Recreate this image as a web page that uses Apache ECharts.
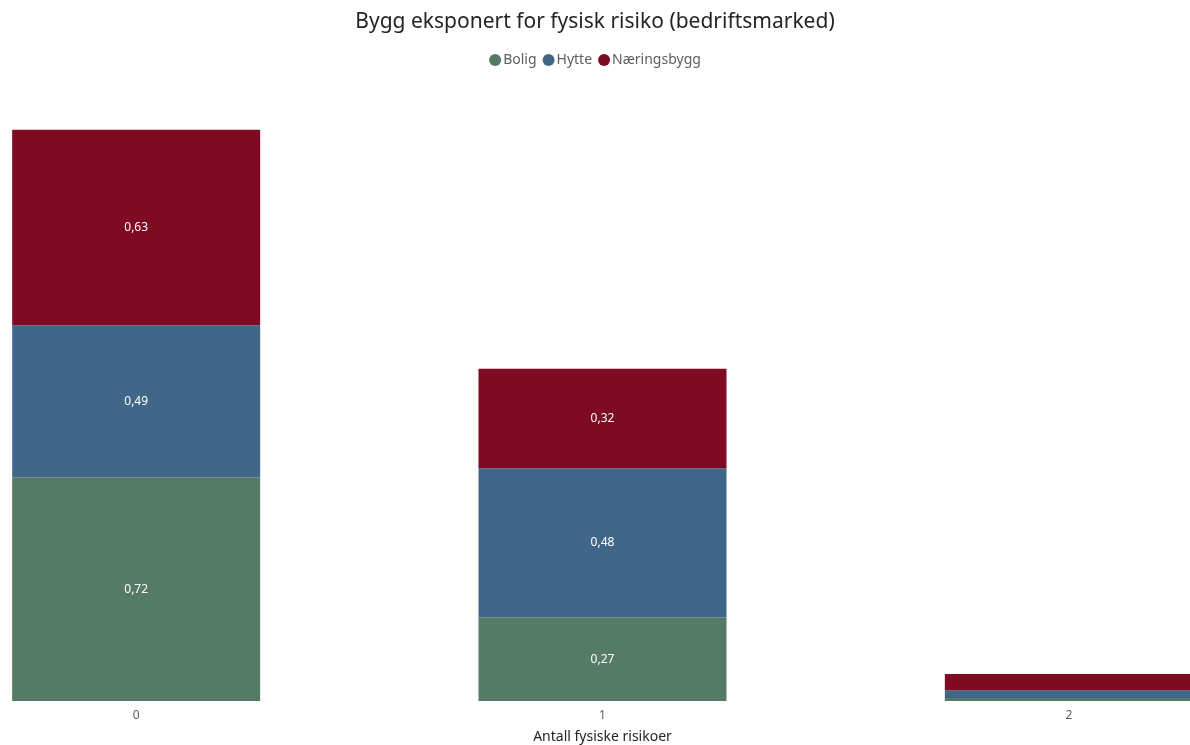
<!DOCTYPE html>
<html>
<head>
<meta charset="utf-8">
<script src="https://cdn.jsdelivr.net/npm/echarts@6/dist/echarts.min.js"></script>
<style>
  html, body { margin: 0; padding: 0; background: #fff; }
  #main { width: 1190px; height: 745px; }
</style>
</head>
<body>
<div id="main"></div>
<script>
"use strict";

// kategorier og verdier lest av bildet
var categories = ["0", "1", "2"];
var bolig = [0.72, 0.27, 0.01];
var hytte = [0.49, 0.48, 0.025];
var naeringsbygg = [0.63, 0.32, 0.052];

var fontName = "'Noto Sans', 'DejaVu Sans', sans-serif";

function fmt(p) {
    if (p.value < 0.1) return "";
    return p.value.toFixed(2).replace(".", ",");
}

function makeSeries(name, data, color) {
    return {
        name: name,
        type: "bar",
        stack: "total",
        barWidth: 248,
        data: data,
        itemStyle: { color: color },
        label: {
            show: true,
            position: "inside",
            formatter: fmt,
            color: "#ffffff",
            fontSize: 12,
            fontFamily: fontName
        }
    };
}

var option = {
    animation: false,
    title: {
        text: "Bygg eksponert for fysisk risiko (bedriftsmarked)",
        left: "center",
        top: 7,
        textStyle: { fontSize: 21, fontWeight: "normal", color: "#252423", fontFamily: fontName }
    },
    legend: {
        top: 48,
        left: "center",
        icon: "circle",
        itemWidth: 12,
        itemHeight: 12,
        itemGap: 6,
        textStyle: { fontSize: 14, color: "#605e5c", fontFamily: fontName, padding: [0, 0, 0, -3] }
    },
    // Power BI-rutenettet går litt utenfor bildet på begge sider
    grid: { left: -97, right: -112, top: 80, bottom: 44, containLabel: false, outerBoundsMode: "none" },
    xAxis: {
        type: "category",
        data: categories,
        name: "Antall fysiske risikoer",
        nameLocation: "middle",
        nameGap: 29,
        nameTextStyle: { fontSize: 14, color: "#252423", fontFamily: fontName },
        axisLine: { show: false },
        axisTick: { show: false },
        axisLabel: { fontSize: 12, color: "#605e5c", margin: 9, fontFamily: fontName }
    },
    yAxis: {
        type: "value",
        min: 0,
        max: 2,
        show: false,
        splitLine: { show: false }
    },
    series: [
        makeSeries("Bolig", bolig, "#557b67"),
        makeSeries("Hytte", hytte, "#416788"),
        makeSeries("Næringsbygg", naeringsbygg, "#7e0a23")
    ]
};

var chart = echarts.init(document.getElementById("main"));
chart.setOption(option);
</script>
</body>
</html>
